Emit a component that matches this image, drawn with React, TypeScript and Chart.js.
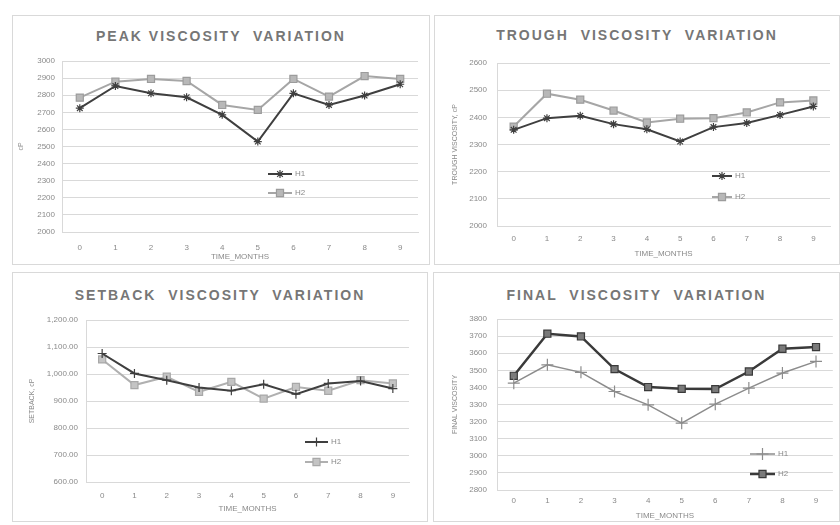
import React, { useEffect, useRef } from 'react';
import { Chart, registerables } from 'chart.js';

Chart.register(...registerables);

const months = ['0', '1', '2', '3', '4', '5', '6', '7', '8', '9'];

const peakH1 = [2724, 2854, 2811, 2788, 2685, 2529, 2811, 2743, 2798, 2864];
const peakH2 = [2786, 2879, 2895, 2883, 2743, 2714, 2895, 2792, 2912, 2895];
const peakTicks = [2000, 2100, 2200, 2300, 2400, 2500, 2600, 2700, 2800, 2900, 3000];

const troughH1 = [2354, 2397, 2406, 2375, 2356, 2311, 2364, 2379, 2409, 2440];
const troughH2 = [2366, 2487, 2465, 2425, 2381, 2395, 2397, 2418, 2455, 2462];
const troughTicks = [2000, 2100, 2200, 2300, 2400, 2500, 2600];

const setbackH1 = [1076, 1002, 977, 950, 938, 962, 925, 965, 974, 946];
const setbackH2 = [1054, 959, 990, 934, 971, 909, 952, 938, 977, 965];
const setbackTicks = [600, 700, 800, 900, 1000, 1100, 1200];

const finalH1 = [3425, 3532, 3488, 3376, 3298, 3191, 3302, 3396, 3484, 3552];
const finalH2 = [3468, 3714, 3698, 3507, 3402, 3392, 3390, 3493, 3626, 3636];
const finalTicks = [2800, 2900, 3000, 3100, 3200, 3300, 3400, 3500, 3600, 3700, 3800];

const FONT = "'Liberation Sans', Arial, sans-serif";
const TXT = '#8a8a8a';
const GRID = '#d9d9d9';

type Series = {
  label: string;
  data: number[];
  color: string;
  width: number;
  point: string;
  radius: number;
  fill: string;
  pborder: string;
};

type PanelProps = {
  box: { left: number; top: number; width: number; height: number };
  plot: { l: number; t: number; r: number; b: number };
  title: string;
  titleY: number;
  yTitle: string;
  ticks: number[];
  fmt: (v: number) => string;
  series: Series[];
  legend: { x: number; y1: number; y2: number; len: number };
  xLabelPad: number;
  xTitlePadB: number;
  yLabelPad: number;
  yTitlePadT: number;
};

function drawMarker(ctx: CanvasRenderingContext2D, style: string, x: number, y: number, r: number, fill: string, stroke: string) {
  ctx.save();
  ctx.fillStyle = fill;
  ctx.strokeStyle = stroke;
  ctx.lineWidth = 1.2;
  ctx.beginPath();
  const s = r * Math.SQRT1_2;
  if (style === 'rect') {
    ctx.rect(x - s, y - s, 2 * s, 2 * s);
    ctx.fill();
    ctx.stroke();
  } else if (style === 'cross') {
    ctx.moveTo(x, y - r); ctx.lineTo(x, y + r);
    ctx.moveTo(x - r, y); ctx.lineTo(x + r, y);
    ctx.stroke();
  } else if (style === 'crossRot') {
    ctx.moveTo(x - s, y - s); ctx.lineTo(x + s, y + s);
    ctx.moveTo(x + s, y - s); ctx.lineTo(x - s, y + s);
    ctx.stroke();
  } else if (style === 'star') {
    ctx.moveTo(x, y - r); ctx.lineTo(x, y + r);
    ctx.moveTo(x - r, y); ctx.lineTo(x + r, y);
    ctx.moveTo(x - s, y - s); ctx.lineTo(x + s, y + s);
    ctx.moveTo(x + s, y - s); ctx.lineTo(x - s, y + s);
    ctx.stroke();
  } else {
    ctx.arc(x, y, r, 0, Math.PI * 2);
    ctx.fill();
    ctx.stroke();
  }
  ctx.restore();
}

function Panel(p: PanelProps) {
  const ref = useRef<HTMLCanvasElement>(null);
  useEffect(() => {
    if (!ref.current) return;
    const legendPlugin = {
      id: 'inLegend',
      afterDatasetsDraw(chart: any) {
        const ctx: CanvasRenderingContext2D = chart.ctx;
        const ys = [p.legend.y1, p.legend.y2];
        p.series.forEach((s, i) => {
          const y = ys[i];
          ctx.save();
          ctx.strokeStyle = s.color;
          ctx.lineWidth = s.width;
          ctx.beginPath();
          ctx.moveTo(p.legend.x, y);
          ctx.lineTo(p.legend.x + p.legend.len, y);
          ctx.stroke();
          ctx.restore();
          drawMarker(ctx, s.point, p.legend.x + p.legend.len / 2, y, s.radius, s.fill, s.pborder);
          ctx.save();
          ctx.fillStyle = TXT;
          ctx.font = `8px ${FONT}`;
          ctx.textBaseline = 'middle';
          ctx.textAlign = 'left';
          ctx.fillText(s.label, p.legend.x + p.legend.len + 3, y);
          ctx.restore();
        });
      },
    };
    const chart = new Chart(ref.current, {
      type: 'line',
      data: {
        labels: months,
        datasets: p.series.map((s) => ({
          label: s.label,
          data: s.data,
          borderColor: s.color,
          backgroundColor: s.color,
          borderWidth: s.width,
          pointStyle: s.point as any,
          pointRadius: s.radius,
          pointBackgroundColor: s.fill,
          pointBorderColor: s.pborder,
          pointBorderWidth: 1.2,
          tension: 0,
          fill: false,
        })),
      },
      options: {
        responsive: false,
        animation: false,
        devicePixelRatio: 1,
        layout: { padding: { left: 0, top: p.plot.t, right: p.plot.r, bottom: 0 } },
        plugins: {
          legend: { display: false },
          tooltip: { enabled: false },
          title: { display: false },
        },
        scales: {
          x: {
            type: 'category',
            offset: true,
            grid: { display: false, drawTicks: false },
            border: { display: true, color: GRID, width: 1 },
            ticks: { color: TXT, font: { size: 8, family: FONT }, padding: p.xLabelPad, maxRotation: 0, autoSkip: false },
            title: {
              display: true,
              text: 'TIME_MONTHS',
              color: TXT,
              font: { size: 8, family: FONT },
              padding: { top: 0, bottom: p.xTitlePadB },
            },
            afterFit: (s: any) => { s.height = p.plot.b; },
          },
          y: {
            min: p.ticks[0],
            max: p.ticks[p.ticks.length - 1],
            grid: { color: GRID, lineWidth: 1, drawTicks: false },
            border: { display: true, color: GRID, width: 1 },
            ticks: {
              stepSize: p.ticks[1] - p.ticks[0],
              color: TXT,
              font: { size: 8, family: FONT },
              padding: p.yLabelPad,
              callback: (v: any) => p.fmt(Number(v)),
            },
            title: {
              display: true,
              text: p.yTitle,
              color: TXT,
              font: { size: 7, family: FONT },
              padding: { top: p.yTitlePadT, bottom: 0 },
            },
            afterFit: (s: any) => { s.width = p.plot.l; },
          },
        },
      },
      plugins: [legendPlugin],
    });
    return () => chart.destroy();
  }, []);

  const { left, top, width, height } = p.box;
  return (
    <>
      <div
        style={{
          position: 'absolute', left, top, width, height,
          border: `1px solid ${GRID}`, boxSizing: 'border-box',
        }}
      />
      <div
        style={{
          position: 'absolute', left, top: p.titleY - 8, width, height: 16,
          lineHeight: '16px', textAlign: 'center', fontFamily: FONT, fontWeight: 'bold',
          fontSize: 14, letterSpacing: '2px', color: '#767676', whiteSpace: 'pre',
        }}
      >
        {p.title}
      </div>
      <canvas
        ref={ref}
        width={width}
        height={height}
        style={{ position: 'absolute', left, top, width, height }}
      />
    </>
  );
}

const plain = (v: number) => String(v);
const money = (v: number) => v.toLocaleString('en-US', { minimumFractionDigits: 2, maximumFractionDigits: 2 });

const DARK = '#3f3f3f';
const LIGHT = '#a6a6a6';

export default function App() {
  return (
    <div style={{ position: 'absolute', left: 0, top: 0, width: 840, height: 525, background: '#fff', overflow: 'hidden' }}>
      <Panel
        box={{ left: 12, top: 15, width: 418, height: 250 }}
        plot={{ l: 50, t: 46, r: 12, b: 33 }}
        title="PEAK VISCOSITY  VARIATION"
        titleY={36}
        yTitle="cP"
        ticks={peakTicks}
        fmt={plain}
        series={[
          { label: 'H1', data: peakH1, color: DARK, width: 2, point: 'star', radius: 4, fill: DARK, pborder: DARK },
          { label: 'H2', data: peakH2, color: LIGHT, width: 2, point: 'rect', radius: 5, fill: '#b8b8b8', pborder: '#9c9c9c' },
        ]}
        legend={{ x: 256, y1: 159, y2: 178, len: 24 }}
        xLabelPad={11}
        xTitlePadB={3}
        yLabelPad={7}
        yTitlePadT={5}
      />
      <Panel
        box={{ left: 434, top: 15, width: 406, height: 250 }}
        plot={{ l: 63, t: 48, r: 10, b: 39 }}
        title="TROUGH  VISCOSITY  VARIATION"
        titleY={35}
        yTitle="TROUGH VISCOSITY, cP"
        ticks={troughTicks}
        fmt={plain}
        series={[
          { label: 'H1', data: troughH1, color: DARK, width: 2, point: 'star', radius: 4, fill: DARK, pborder: DARK },
          { label: 'H2', data: troughH2, color: LIGHT, width: 2, point: 'rect', radius: 5, fill: '#b8b8b8', pborder: '#9c9c9c' },
        ]}
        legend={{ x: 278, y1: 161, y2: 182, len: 20 }}
        xLabelPad={8}
        xTitlePadB={6}
        yLabelPad={10}
        yTitlePadT={17}
      />
      <Panel
        box={{ left: 12, top: 272, width: 416, height: 250 }}
        plot={{ l: 74, t: 48, r: 19, b: 40 }}
        title="SETBACK  VISCOSITY  VARIATION"
        titleY={295}
        yTitle="SETBACK, cP"
        ticks={setbackTicks}
        fmt={money}
        series={[
          { label: 'H1', data: setbackH1, color: DARK, width: 2, point: 'cross', radius: 4.5, fill: DARK, pborder: DARK },
          { label: 'H2', data: setbackH2, color: '#b0b0b0', width: 2, point: 'rect', radius: 5, fill: '#c4c4c4', pborder: '#a8a8a8' },
        ]}
        legend={{ x: 293, y1: 170, y2: 190, len: 23 }}
        xLabelPad={9}
        xTitlePadB={8}
        yLabelPad={8}
        yTitlePadT={16}
      />
      <Panel
        box={{ left: 433, top: 272, width: 407, height: 250 }}
        plot={{ l: 64, t: 47, r: 1, b: 32 }}
        title="FINAL  VISCOSITY  VARIATION"
        titleY={295}
        yTitle="FINAL VISCOSITY"
        ticks={finalTicks}
        fmt={plain}
        series={[
          { label: 'H1', data: finalH1, color: '#8c8c8c', width: 1.5, point: 'cross', radius: 6, fill: '#8c8c8c', pborder: '#8c8c8c' },
          { label: 'H2', data: finalH2, color: '#3a3a3a', width: 2.5, point: 'rect', radius: 5, fill: '#7a7a7a', pborder: '#3a3a3a' },
        ]}
        legend={{ x: 317, y1: 182, y2: 202, len: 25 }}
        xLabelPad={6}
        xTitlePadB={1}
        yLabelPad={10}
        yTitlePadT={18}
      />
    </div>
  );
}
